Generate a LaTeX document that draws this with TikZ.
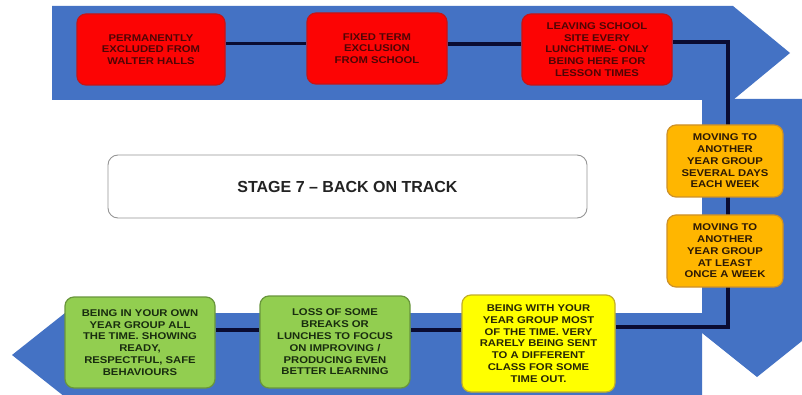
\documentclass[tikz,border=0pt]{standalone}
\usepackage{fontspec}
\setmainfont{Liberation Sans}
\newfontfamily\boxfont[FakeStretch=1.15]{Liberation Sans}
\pgfdeclarelayer{background}
\pgfdeclarelayer{lines}
\pgfsetlayers{background,lines,main}
\definecolor{bandblue}{RGB}{68,114,196}
\definecolor{redfill}{RGB}{252,4,4}
\definecolor{redline}{RGB}{200,20,20}
\definecolor{redtext}{RGB}{80,5,5}
\definecolor{greenfill}{RGB}{146,206,80}
\definecolor{greenline}{RGB}{105,150,60}
\definecolor{greentext}{RGB}{25,45,15}
\definecolor{yellowfill}{RGB}{255,255,0}
\definecolor{yellowline}{RGB}{195,175,40}
\definecolor{yellowtext}{RGB}{40,40,5}
\definecolor{orangefill}{RGB}{255,182,0}
\definecolor{orangeline}{RGB}{205,145,40}
\definecolor{orangetext}{RGB}{45,25,5}
\definecolor{connline}{RGB}{10,12,50}
\definecolor{titleline}{RGB}{150,150,150}
\definecolor{titletext}{RGB}{35,35,35}
\tikzset{
  stepbox/.style={rectangle, rounded corners=9pt, line width=1.2pt, align=center,
    inner sep=2pt, font=\boxfont\bfseries\fontsize{9.8}{11.8}\selectfont},
  redbox/.style={stepbox, fill=redfill, draw=redline, text=redtext},
  greenbox/.style={stepbox, fill=greenfill, draw=greenline, text=greentext},
  yellowbox/.style={stepbox, fill=yellowfill, draw=yellowline, text=yellowtext},
  orangebox/.style={stepbox, fill=orangefill, draw=orangeline, text=orangetext},
  conn/.style={draw=connline, line width=3.2pt},
  band/.style={fill=bandblue, draw=none}
}
\begin{document}
\begin{tikzpicture}[x=1pt,y=-1pt]
\useasboundingbox (0,0) rectangle (802,395);
% blue arrows
\begin{pgfonlayer}{background}
\fill[white] (0,0) rectangle (802,395);
\path[band] (52,6) -- (733,6) -- (790,53) -- (733,100) -- (52,100) -- cycle;
\path[band] (702,99) -- (812,99) -- (812,333) -- (757,377) -- (702,333) -- cycle;
\path[band] (702,313) -- (702,397) -- (65,397) -- (12,355) -- (65,313) -- cycle;
\end{pgfonlayer}
% title
\node[rectangle, rounded corners=10pt, draw=titleline, line width=0.9pt, fill=white,
  minimum width=479pt, minimum height=63pt, text=titletext,
  font=\bfseries\fontsize{16}{19}\selectfont] (title) at (347.5,186.5) {STAGE 7 -- BACK ON TRACK};
% red boxes
\node[redbox, minimum width=148pt, minimum height=71pt] (r1) at (151,49.5)
  {PERMANENTLY\\EXCLUDED FROM\\WALTER HALLS};
\node[redbox, minimum width=140pt, minimum height=71pt] (r2) at (377,48.5)
  {FIXED TERM\\EXCLUSION\\FROM SCHOOL};
\node[redbox, minimum width=150pt, minimum height=71pt] (r3) at (597,49.5)
  {LEAVING SCHOOL\\SITE EVERY\\LUNCHTIME- ONLY\\BEING HERE FOR\\LESSON TIMES};
% orange boxes
\node[orangebox, minimum width=116pt, minimum height=72pt] (o1) at (725,161)
  {MOVING TO\\ANOTHER\\YEAR GROUP\\SEVERAL DAYS\\EACH WEEK};
\node[orangebox, minimum width=116pt, minimum height=72pt] (o2) at (725,251)
  {MOVING TO\\ANOTHER\\YEAR GROUP\\AT LEAST\\ONCE A WEEK};
% yellow box
\node[yellowbox, minimum width=153pt, minimum height=97pt] (y1) at (538.5,343.5)
  {BEING WITH YOUR\\YEAR GROUP MOST\\OF THE TIME. VERY\\RARELY BEING SENT\\TO A DIFFERENT\\CLASS FOR SOME\\TIME OUT.};
% green boxes
\node[greenbox, minimum width=150pt, minimum height=92pt] (g2) at (335,342)
  {LOSS OF SOME\\BREAKS OR\\LUNCHES TO FOCUS\\ON IMPROVING /\\PRODUCING EVEN\\BETTER LEARNING};
\node[greenbox, minimum width=150pt, minimum height=91pt] (g1) at (140,342.5)
  {BEING IN YOUR OWN\\YEAR GROUP ALL\\THE TIME. SHOWING\\READY,\\RESPECTFUL, SAFE\\BEHAVIOURS};
% connectors
\coordinate (c1) at (728,42);
\coordinate (c2) at (728,327);
\begin{pgfonlayer}{lines}
\draw[conn] (r1.east |- 0,43.5) -- (r2.west |- 0,43.5);
\draw[conn] (r2.east |- 0,44) -- (r3.west |- 0,44);
\draw[conn] (r3.east |- c1) -- (c1) -- (c2) -- (y1.east |- c2);
\draw[conn] (y1.west |- 0,330) -- (g2.east |- 0,330);
\draw[conn] (g2.west |- 0,330) -- (g1.east |- 0,330);
\end{pgfonlayer}
\end{tikzpicture}
\end{document}
